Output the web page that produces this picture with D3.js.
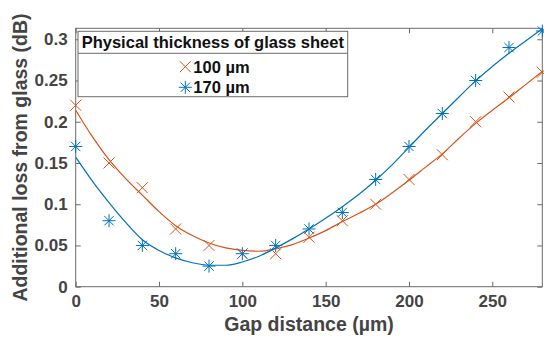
<!DOCTYPE html>
<html>
<head>
<meta charset="utf-8">
<script src="https://cdn.jsdelivr.net/npm/d3@7"></script>
<style>
  body { margin: 0; background: #fff; }
  text { font-family: "Liberation Sans", Arial, sans-serif; font-weight: bold; }
</style>
</head>
<body>
<div id="svg-area"></div>
<script>
// measured points (gap distance in um, loss in dB)
const gapPts = [0, 20, 40, 60, 80, 100, 120, 140, 160, 180, 200, 220, 240, 260, 280]
const loss100 = [0.22, 0.15, 0.12, 0.07, 0.05, 0.04, 0.04, 0.06, 0.08, 0.10, 0.13, 0.16, 0.20, 0.23, 0.26]
const loss170 = [0.17, 0.08, 0.05, 0.04, 0.025, 0.04, 0.05, 0.07, 0.09, 0.13, 0.17, 0.21, 0.25, 0.29, 0.31]

// fitted curves, every 10 um
const fitGap = [0, 10, 20, 30, 40, 50, 60, 70, 80, 90, 100, 110, 120, 130, 140, 150, 160, 170, 180, 190, 200, 210, 220, 230, 240, 250, 260, 270, 280]
const fit100 = [0.214, 0.182, 0.154, 0.131, 0.111, 0.091, 0.074, 0.062, 0.053, 0.047, 0.044, 0.043, 0.046, 0.051, 0.059, 0.068, 0.079, 0.089, 0.100, 0.114, 0.129, 0.145, 0.161, 0.180, 0.198, 0.214, 0.229, 0.245, 0.261]
const fit170 = [0.157, 0.128, 0.102, 0.078, 0.057, 0.044, 0.035, 0.029, 0.026, 0.026, 0.030, 0.037, 0.047, 0.058, 0.070, 0.083, 0.097, 0.112, 0.129, 0.148, 0.169, 0.190, 0.210, 0.230, 0.2495, 0.267, 0.283, 0.298, 0.313]

const xTicks = [0, 50, 100, 150, 200, 250]
const yTicks = [0, 0.05, 0.1, 0.15, 0.2, 0.25, 0.3]
const seriesNames = ["100 µm", "170 µm"]
const legendTitle = "Physical thickness of glass sheet"

const orange = "#D95319"
const blue = "#0072BD"

const svgWidth = 544
const svgHeight = 343
const margin = { top: 28.3, right: 1.7, bottom: 56.3, left: 75.7 }
const chartWidth = svgWidth - margin.left - margin.right
const chartHeight = svgHeight - margin.top - margin.bottom

let svg = d3.select("#svg-area").append("svg")
  .attr("width", svgWidth)
  .attr("height", svgHeight)

let chartGroup = svg.append("g")
  .attr("transform", `translate(${margin.left}, ${margin.top})`)

const x = d3.scaleLinear().domain([0, 280]).range([0, chartWidth])
const y = d3.scaleLinear().domain([0, 0.3133]).range([chartHeight, 0])

svg.append("defs").append("clipPath").attr("id", "plotclip")
  .append("rect").attr("width", chartWidth).attr("height", chartHeight)

// axes with inward ticks, box on all sides
const axisCol = "#6b6b6b"
const tickLen = 5
function styleAxis(g) {
  g.select(".domain").remove()
  g.selectAll(".tick line").attr("stroke", axisCol)
  g.selectAll(".tick text").attr("fill", "#444").style("font-size", "17px")
}

chartGroup.append("g")
  .attr("transform", `translate(0, ${chartHeight})`)
  .call(d3.axisBottom(x).tickValues(xTicks).tickSizeInner(-tickLen).tickSizeOuter(0).tickPadding(8))
  .call(styleAxis)

chartGroup.append("g")
  .call(d3.axisTop(x).tickValues(xTicks).tickSizeInner(-tickLen).tickSizeOuter(0).tickFormat(""))
  .call(styleAxis)

chartGroup.append("g")
  .call(d3.axisLeft(y).tickValues(yTicks).tickSizeInner(-tickLen).tickSizeOuter(0).tickPadding(8).tickFormat(d => String(d)))
  .call(styleAxis)

chartGroup.append("g")
  .attr("transform", `translate(${chartWidth}, 0)`)
  .call(d3.axisRight(y).tickValues(yTicks).tickSizeInner(-tickLen).tickSizeOuter(0).tickFormat(""))
  .call(styleAxis)

chartGroup.append("rect")
  .attr("width", chartWidth).attr("height", chartHeight)
  .attr("fill", "none").attr("stroke", axisCol).attr("stroke-width", 1)

// fitted lines
const line = d3.line().x(d => x(d[0])).y(d => y(d[1])).curve(d3.curveMonotoneX)
const plotArea = chartGroup.append("g").attr("clip-path", "url(#plotclip)")

plotArea.append("path")
  .attr("d", line(fitGap.map((g, i) => [g, fit100[i]])))
  .attr("fill", "none").attr("stroke", orange).attr("stroke-width", 1.2)
plotArea.append("path")
  .attr("d", line(fitGap.map((g, i) => [g, fit170[i]])))
  .attr("fill", "none").attr("stroke", blue).attr("stroke-width", 1.2)

// marker shapes
function crossPath(cx, cy, r) {
  let p = d3.path()
  p.moveTo(cx - r, cy - r); p.lineTo(cx + r, cy + r)
  p.moveTo(cx - r, cy + r); p.lineTo(cx + r, cy - r)
  return p.toString()
}
function starPath(cx, cy, r) {
  let p = d3.path()
  const d = r * 0.72
  p.moveTo(cx - r, cy); p.lineTo(cx + r, cy)
  p.moveTo(cx, cy - r); p.lineTo(cx, cy + r)
  p.moveTo(cx - d, cy - d); p.lineTo(cx + d, cy + d)
  p.moveTo(cx - d, cy + d); p.lineTo(cx + d, cy - d)
  return p.toString()
}

const markGroup = svg.append("g")
  .attr("transform", `translate(${margin.left}, ${margin.top})`)

markGroup.selectAll(".m100")
  .data(gapPts.map((g, i) => [g, loss100[i]]))
  .enter().append("path")
  .attr("class", "m100")
  .attr("d", d => crossPath(x(d[0]), y(d[1]), 5.5))
  .attr("fill", "none").attr("stroke", orange).attr("stroke-width", 1)

markGroup.selectAll(".m170")
  .data(gapPts.map((g, i) => [g, loss170[i]]))
  .enter().append("path")
  .attr("class", "m170")
  .attr("d", d => starPath(x(d[0]), y(d[1]), 6.5))
  .attr("fill", "none").attr("stroke", blue).attr("stroke-width", 1)

// axis labels
svg.append("text")
  .attr("x", margin.left + chartWidth / 2)
  .attr("y", 331)
  .attr("text-anchor", "middle")
  .attr("fill", "#444")
  .style("font-size", "19.5px")
  .text("Gap distance (µm)")

svg.append("text")
  .attr("transform", `translate(27, ${margin.top + chartHeight / 2}) rotate(-90)`)
  .attr("text-anchor", "middle")
  .attr("fill", "#444")
  .style("font-size", "19.5px")
  .text("Additional loss from glass (dB)")

// legend
const lg = svg.append("g").attr("transform", "translate(78, 31.3)")
const lgW = 269.7, lgH = 65.4, titleH = 22
lg.append("rect").attr("width", lgW).attr("height", lgH)
  .attr("fill", "#fff").attr("stroke", axisCol).attr("stroke-width", 1)
lg.append("line").attr("x1", 0).attr("x2", lgW).attr("y1", titleH).attr("y2", titleH)
  .attr("stroke", axisCol)
lg.append("text")
  .attr("x", lgW / 2).attr("y", titleH / 2 + 6)
  .attr("text-anchor", "middle").attr("fill", "#111")
  .style("font-size", "16.5px")
  .text(legendTitle)

const entryY = [35.4, 56]
lg.append("path").attr("d", crossPath(107.3, entryY[0], 5.5))
  .attr("fill", "none").attr("stroke", orange)
lg.append("path").attr("d", starPath(107.3, entryY[1], 6.5))
  .attr("fill", "none").attr("stroke", blue)
seriesNames.forEach((name, i) => {
  lg.append("text")
    .attr("x", 115.3).attr("y", entryY[i] + 6)
    .attr("fill", "#111")
    .style("font-size", "16.5px")
    .text(name)
})
</script>
</body>
</html>
